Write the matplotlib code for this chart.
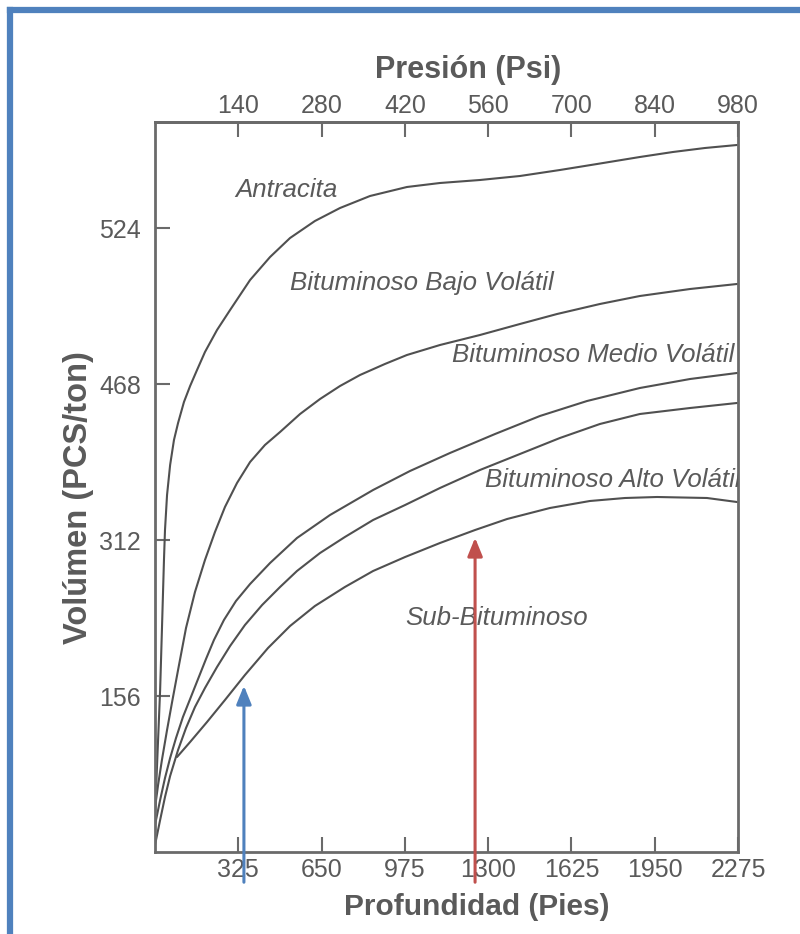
import matplotlib
matplotlib.use("Agg")
import matplotlib.pyplot as plt
from matplotlib.lines import Line2D

plt.rcParams['font.family'] = ['Liberation Sans', 'DejaVu Sans']

# ---- data (depth in ft, volume in axis units) ----
antracita_x = [0, 4, 12, 20, 27, 35, 39, 47, 59, 74, 90, 113, 137, 164, 195, 242, 293, 371, 449,
               527, 624, 722, 839, 983, 1112, 1268, 1424, 1580, 1725, 1892, 2021, 2146, 2271]
antracita_y = [37, 62, 112, 162, 222, 292, 322, 357, 387, 412, 429, 450, 466, 482, 500, 522, 542,
               572, 595, 614, 631, 644, 656, 665, 669, 672, 676, 682, 688, 695, 700, 704, 707]

bajo_x = [0, 12, 27, 47, 66, 90, 121, 156, 195, 234, 273, 320, 371, 429, 488, 566, 644, 722,
          800, 897, 983, 1112, 1268, 1424, 1569, 1736, 1892, 2088, 2271]
bajo_y = [44, 67, 92, 122, 149, 182, 224, 260, 292, 320, 345, 369, 390, 407, 420, 438, 453, 466,
          477, 488, 497, 507, 517, 528, 538, 548, 556, 563, 568]

medio_x = [0, 20, 39, 59, 82, 109, 137, 168, 199, 230, 269, 316, 371, 449, 554, 683, 851, 995,
           1151, 1327, 1502, 1686, 1892, 2088, 2271]
medio_y = [27, 52, 74, 94, 114, 135, 153, 173, 193, 212, 232, 251, 268, 289, 314, 337, 362, 381,
           399, 418, 436, 451, 464, 473, 479]

alto_x = [0, 20, 39, 59, 90, 121, 156, 195, 242, 293, 351, 418, 488, 554, 644, 741, 851, 976,
          1112, 1268, 1424, 1580, 1736, 1892, 2088, 2271]
alto_y = [7, 32, 55, 76, 102, 124, 145, 164, 185, 206, 227, 247, 265, 281, 299, 315, 332, 347,
          364, 382, 398, 414, 428, 438, 444, 449]

sub_x = [86, 137, 203, 273, 351, 441, 527, 624, 741, 851, 976, 1112, 1249, 1374, 1541, 1697,
         1834, 1959, 2154, 2271]
sub_y = [95, 110, 130, 152, 177, 204, 226, 246, 265, 281, 295, 309, 322, 333, 344, 351,
         354, 355, 354, 350]

depth_ticks = [325, 650, 975, 1300, 1625, 1950, 2275]
pressure_ticks = [140, 280, 420, 560, 700, 840, 980]
vol_tick_pos = [156, 312, 468, 624]
vol_tick_labels = ['156', '312', '468', '524']

curve_names = ['Antracita', 'Bituminoso Bajo Volátil', 'Bituminoso Medio Volátil',
               'Bituminoso Alto Volátil', 'Sub-Bituminoso']

GRAY = '#5a5a5a'
AX = '#6a6a6a'
BLUE = '#4f81bd'
RED = '#c0504d'

fig = plt.figure(figsize=(8, 9.34), dpi=100)
ax = fig.add_axes([155/800, 1-852/934, (738-155)/800, (852-122)/934])

for xs, ys in [(antracita_x, antracita_y), (bajo_x, bajo_y), (medio_x, medio_y),
               (alto_x, alto_y), (sub_x, sub_y)]:
    ax.plot(xs, ys, color='#505050', lw=1.5, solid_capstyle='round', solid_joinstyle='round')

ax.set_xlim(0, 2275)
ax.set_ylim(0, 730)
ax.set_xticks(depth_ticks)
ax.set_xticklabels([str(t) for t in depth_ticks])
ax.set_yticks(vol_tick_pos)
ax.set_yticklabels(vol_tick_labels)

for sp in ax.spines.values():
    sp.set_color(AX)
    sp.set_linewidth(2)
ax.tick_params(axis='both', direction='in', length=11, width=1.5, color=AX,
               labelcolor=GRAY, labelsize=18)
ax.tick_params(axis='y', pad=10)
ax.tick_params(axis='x', pad=4)

sec = ax.secondary_xaxis('top', functions=(lambda d: d*980/2275, lambda p: p*2275/980))
sec.set_xticks(pressure_ticks)
sec.set_xticklabels([str(t) for t in pressure_ticks])
sec.tick_params(direction='in', length=11, width=1.5, color=AX, labelcolor=GRAY,
                labelsize=18, pad=3)
sec.spines['top'].set_color(AX)
sec.spines['top'].set_linewidth(2)

# curve labels
lab_kw = dict(fontsize=18.6, style='italic', color=GRAY, va='center', ha='left', clip_on=True)
ax.text(312, 662, curve_names[0], **lab_kw)
ax.text(527, 569, curve_names[1], **lab_kw)
ax.text(1159, 497, curve_names[2], **lab_kw)
ax.text(1288, 372, curve_names[3], **lab_kw)
ax.text(976, 234, curve_names[4], **lab_kw)

# arrows
ax.annotate('', xy=(347, 169), xytext=(347, -33), annotation_clip=False,
            arrowprops=dict(arrowstyle='-|>,head_length=1.1,head_width=0.45', color=BLUE, lw=2.2))
ax.annotate('', xy=(1249, 317), xytext=(1249, -33), annotation_clip=False,
            arrowprops=dict(arrowstyle='-|>,head_length=1.1,head_width=0.45', color=RED, lw=2.2))

# axis titles
fig.text(468/800, 1-70/934, 'Presión (Psi)', ha='center', va='center',
         fontsize=22, fontweight='bold', color=GRAY)
fig.text(477/800, 1-907/934, 'Profundidad (Pies)', ha='center', va='center',
         fontsize=21.5, fontweight='bold', color=GRAY)
fig.text(79/800, 1-498/934, 'Volúmen (PCS/ton)', ha='center', va='center', rotation=90,
         fontsize=23.5, fontweight='bold', color=GRAY)

# blue frame (left and top)
fig.add_artist(Line2D([10/800, 10/800], [0, 1-10/934], color=BLUE, lw=4.5,
                      transform=fig.transFigure))
fig.add_artist(Line2D([10/800, 1], [1-10/934, 1-10/934], color=BLUE, lw=4.5,
                      transform=fig.transFigure))

fig.savefig('out.png', dpi=100)
